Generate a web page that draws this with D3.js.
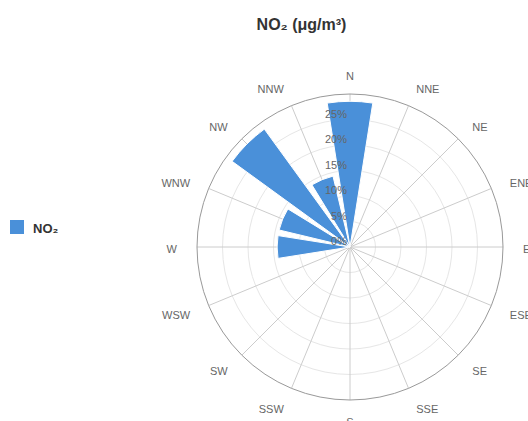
<!DOCTYPE html>
<html><head><meta charset="utf-8">
<script src="https://cdn.jsdelivr.net/npm/d3@7"></script>
<style>body{margin:0;background:#fff;} svg{display:block;font-family:"Liberation Sans",Arial,Helvetica,sans-serif;}</style>
</head><body>
<svg id="c" width="528" height="421"></svg>
<script>
const directions = ["N","NNE","NE","ENE","E","ESE","SE","SSE","S","SSW","SW","WSW","W","WNW","NW","NNW"];
const no2Values = [28.57,0,0,0,0,0,0,0,0,0,0,0,14.29,14.29,28.57,14.29];
const radialTicks = [0,5,10,15,20,25];
const seriesName = "NO₂";
const titleText = "NO₂ (μg/m³)";

const svg = d3.select("#c");
const cx = 350, cy = 247, R = 153;
const rScale = d3.scaleLinear().domain([0,30]).range([0,R]);
const step = 2*Math.PI/directions.length;
const aScale = d3.scaleBand().domain(directions).range([-step/2, 2*Math.PI - step/2]).paddingInner(0.2).paddingOuter(0.1);

const g = svg.append("g").attr("transform",`translate(${cx},${cy})`);

// rings
g.selectAll("circle.ring").data(radialTicks.filter(d=>d>0)).enter().append("circle")
  .attr("r", d=>rScale(d)).attr("fill","none").attr("stroke","#e6e6e6").attr("stroke-width",1);
// spokes
g.selectAll("line.spoke").data(directions).enter().append("line")
  .attr("x1",0).attr("y1",0)
  .attr("x2",(d,i)=>R*Math.sin(i*step)).attr("y2",(d,i)=>-R*Math.cos(i*step))
  .attr("stroke","#cccccc").attr("stroke-width",1);
// outer circle
g.append("circle").attr("r",R).attr("fill","none").attr("stroke","#999").attr("stroke-width",1);

// bars
const arc = d3.arc().innerRadius(0);
g.selectAll("path.bar").data(directions.map((d,i)=>({dir:d,v:no2Values[i]})).filter(d=>d.v>0)).enter().append("path")
  .attr("d", d=>{
    const a0 = aScale(d.dir);
    return arc({outerRadius:rScale(d.v), startAngle:a0, endAngle:a0+aScale.bandwidth()});
  })
  .attr("fill","#4a90d9").attr("stroke","#fff").attr("stroke-width",1);

// radial tick labels
g.selectAll("text.rt").data(radialTicks).enter().append("text")
  .attr("x",-3).attr("y",d=>-rScale(d)-2)
  .attr("text-anchor","end").attr("font-size",11).attr("fill","#666")
  .text(d=>d+"%");

// direction labels
const LR = 173;
g.selectAll("text.dir").data(directions).enter().append("text")
  .attr("x",(d,i)=>LR*Math.sin(i*step)).attr("y",(d,i)=>-LR*Math.cos(i*step)+2)
  .attr("dy","0.35em")
  .attr("text-anchor",(d,i)=>{const s=Math.sin(i*step); return Math.abs(s)<0.01?"middle":(s>0?"start":"end");})
  .attr("font-size",11).attr("fill","#666")
  .text(d=>d);

// title
svg.append("text").attr("x",301.5).attr("y",30).attr("text-anchor","middle")
  .attr("font-size",16).attr("font-weight","bold").attr("fill","#333").text(titleText);

// legend
svg.append("rect").attr("x",10).attr("y",220).attr("width",14).attr("height",14).attr("fill","#4a90d9");
svg.append("text").attr("x",33).attr("y",232.5).attr("font-size",13).attr("font-weight","bold").attr("fill","#333").text(seriesName);
</script>
</body></html>
